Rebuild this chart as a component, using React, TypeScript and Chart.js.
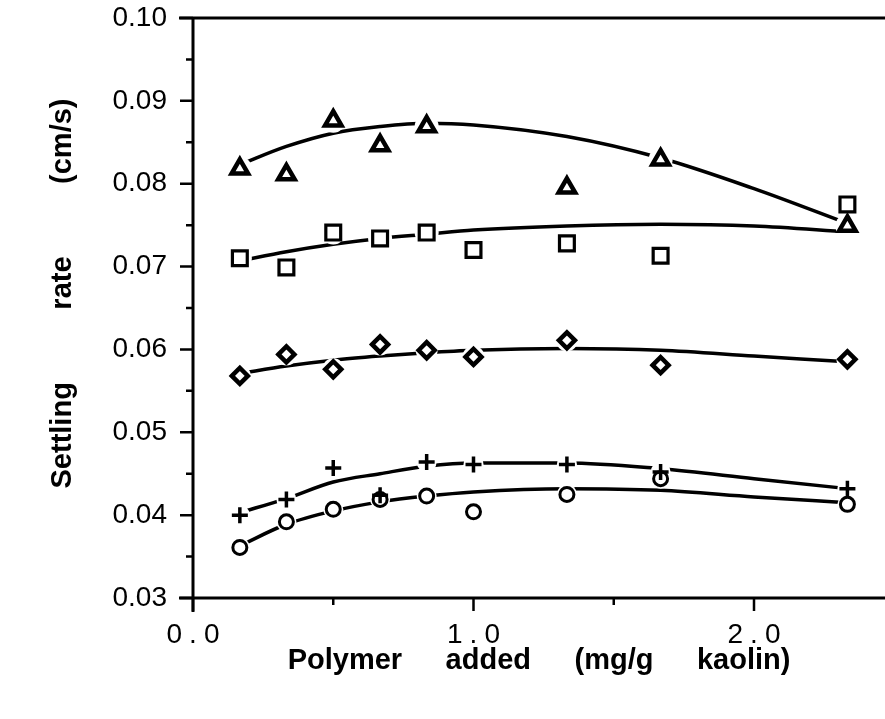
import React, { useEffect, useRef } from 'react';
import { Chart, registerables } from 'chart.js';

Chart.register(...registerables);

// ---- data ----
const doseAll = [0.167, 0.333, 0.5, 0.667, 0.833, 1.0, 1.333, 1.667, 2.333];
const doseTriangle = [0.167, 0.333, 0.5, 0.667, 0.833, 1.333, 1.667, 2.333];
const triangleRate = [0.0818, 0.0811, 0.0876, 0.0846, 0.0869, 0.0795, 0.0829, 0.0749];
const squareRate = [0.0710, 0.0699, 0.0741, 0.0734, 0.0741, 0.0720, 0.0728, 0.0713, 0.0775];
const diamondRate = [0.0568, 0.0594, 0.0576, 0.0606, 0.0599, 0.0591, 0.0611, 0.0581, 0.0588];
const plusRate = [0.0400, 0.0419, 0.0457, 0.0424, 0.0464, 0.0461, 0.0461, 0.0452, 0.0432];
const circleRate = [0.0361, 0.0392, 0.0407, 0.0419, 0.0423, 0.0404, 0.0425, 0.0444, 0.0413];

// fitted curves, read at these doses
const curveDose = [0.167, 0.333, 0.5, 0.667, 0.833, 1.0, 1.333, 1.667, 2.0, 2.333];
const triangleCurve = [0.0823, 0.0845, 0.0861, 0.0869, 0.0873, 0.0871, 0.0857, 0.0831, 0.0794, 0.0752];
const squareCurve = [0.0707, 0.0718, 0.0727, 0.0734, 0.0739, 0.0744, 0.0749, 0.0751, 0.0749, 0.0742];
const diamondCurve = [0.0571, 0.0580, 0.0587, 0.0592, 0.0596, 0.0599, 0.0601, 0.0599, 0.0592, 0.0585];
const plusCurve = [0.0403, 0.0420, 0.0440, 0.0450, 0.0459, 0.0463, 0.0463, 0.0456, 0.0444, 0.0432];
const circleCurve = [0.0363, 0.0389, 0.0405, 0.0416, 0.0423, 0.0428, 0.0432, 0.0430, 0.0422, 0.0415];

// axes
const xMin = 0;
const xMax = 2.467;
const yMin = 0.03;
const yMax = 0.10;
const xMajorTicks = [0, 1, 2];
const xMinorTicks = [0.5, 1.5];
const xTickLabels = ['0\u2005.\u20050', '1\u2005.\u20050', '2\u2005.\u20050'];
const yMajorTicks = [0.03, 0.04, 0.05, 0.06, 0.07, 0.08, 0.09, 0.10];
const yMinorTicks = [0.035, 0.045, 0.055, 0.065, 0.075, 0.085, 0.095];
const xTitle = 'Polymer\u2003\u2002added\u2003\u2002(mg/g\u2003\u2002kaolin)';
const yTitle = '\u2003Settling\u2003\u2003\u2002rate\u2003\u2003\u2002(cm/s)';

const FONT = '"Liberation Sans", Arial, Helvetica, sans-serif';

const pts = (xs: number[], ys: number[]) => xs.map((x, i) => ({ x, y: ys[i] }));

const axesPlugin = {
  id: 'paperAxes',
  afterDraw(chart: any) {
    const { ctx, chartArea, scales } = chart;
    const xs = scales.x;
    const ys = scales.y;
    const x0 = xs.getPixelForValue(xMin);
    const y0 = ys.getPixelForValue(yMin);
    const yTop = ys.getPixelForValue(yMax);
    ctx.save();
    ctx.strokeStyle = '#000';
    ctx.lineCap = 'butt';
    ctx.lineWidth = 3;
    ctx.beginPath();
    ctx.moveTo(x0, yTop - 1.5);
    ctx.lineTo(x0, y0 + 14);
    ctx.moveTo(x0 - 14, y0);
    ctx.lineTo(chartArea.right, y0);
    ctx.moveTo(x0 - 14, yTop);
    ctx.lineTo(chartArea.right, yTop);
    ctx.stroke();
    ctx.lineWidth = 2.5;
    ctx.beginPath();
    yMajorTicks.forEach((v) => {
      const p = ys.getPixelForValue(v);
      ctx.moveTo(x0 - 13, p);
      ctx.lineTo(x0, p);
    });
    yMinorTicks.forEach((v) => {
      const p = ys.getPixelForValue(v);
      ctx.moveTo(x0 - 7, p);
      ctx.lineTo(x0, p);
    });
    xMajorTicks.forEach((v) => {
      const p = xs.getPixelForValue(v);
      ctx.moveTo(p, y0);
      ctx.lineTo(p, y0 + 13);
    });
    xMinorTicks.forEach((v) => {
      const p = xs.getPixelForValue(v);
      ctx.moveTo(p, y0);
      ctx.lineTo(p, y0 + 7);
    });
    ctx.stroke();
    ctx.restore();
  },
};

const curveDs = (ys: number[]) => ({
  data: pts(curveDose, ys),
  borderColor: '#000',
  borderWidth: 3.5,
  pointRadius: 0,
  tension: 0.4,
  cubicInterpolationMode: 'monotone' as const,
  fill: false,
  order: 3,
});

const haloDs = (xs: number[], ys: number[], r: number) => ({
  data: pts(xs, ys),
  showLine: false,
  pointStyle: 'circle' as const,
  pointRadius: r,
  pointBackgroundColor: '#fff',
  pointBorderWidth: 0,
  pointBorderColor: '#fff',
  order: 2,
});

const markerDs = (xs: number[], ys: number[], style: any, r: number, bw: number) => ({
  data: pts(xs, ys),
  showLine: false,
  pointStyle: style,
  pointRadius: r,
  pointBorderWidth: bw,
  pointBorderColor: '#000',
  pointBackgroundColor: '#fff',
  order: 1,
});

export default function App() {
  const ref = useRef<HTMLCanvasElement | null>(null);
  useEffect(() => {
    if (!ref.current) return;
    const chart = new Chart(ref.current, {
      type: 'line',
      data: {
        datasets: [
          curveDs(triangleCurve),
          curveDs(squareCurve),
          curveDs(diamondCurve),
          curveDs(plusCurve),
          curveDs(circleCurve),
          haloDs(doseTriangle, triangleRate, 12),
          haloDs(doseAll, squareRate, 12),
          haloDs(doseAll, diamondRate, 11),
          haloDs(doseAll, plusRate, 10),
          haloDs(doseAll, circleRate, 10),
          markerDs(doseTriangle, triangleRate, 'triangle', 9.5, 4.5),
          markerDs(doseAll, squareRate, 'rect', 10.5, 3.2),
          markerDs(doseAll, diamondRate, 'rectRot', 8, 4.5),
          markerDs(doseAll, plusRate, 'cross', 8, 3.5),
          markerDs(doseAll, circleRate, 'circle', 7, 3),
        ] as any,
      },
      options: {
        animation: false,
        responsive: false,
        devicePixelRatio: 1,
        layout: { autoPadding: false, padding: { top: 18, right: 0, left: 0, bottom: 0 } },
        plugins: {
          legend: { display: false },
          tooltip: { enabled: false },
        },
        scales: {
          x: {
            type: 'linear',
            min: xMin,
            max: xMax,
            border: { display: false },
            grid: { display: false, drawTicks: false },
            ticks: {
              stepSize: 1,
              includeBounds: false,
              padding: 20,
              color: '#000',
              font: { family: FONT, size: 28 },
              callback: (v: any) => {
                const i = xMajorTicks.indexOf(Number(v));
                return i >= 0 ? xTickLabels[i] : '';
              },
            },
            title: {
              display: true,
              text: xTitle,
              color: '#000',
              font: { family: FONT, size: 29, weight: 'bold' },
              padding: { top: 0, bottom: 41 },
            },
            afterFit: (s: any) => {
              s.height = 121;
              s.paddingLeft = 0;
              s.paddingRight = 0;
            },
          },
          y: {
            type: 'linear',
            min: yMin,
            max: yMax,
            border: { display: false },
            grid: { display: false, drawTicks: false },
            ticks: {
              stepSize: 0.01,
              padding: 26,
              color: '#000',
              font: { family: FONT, size: 28 },
              callback: (v: any) => Number(v).toFixed(2),
            },
            title: {
              display: true,
              text: yTitle,
              color: '#000',
              font: { family: FONT, size: 29, weight: 'bold' },
              padding: { top: 46, bottom: 0 },
            },
            afterFit: (s: any) => {
              s.width = 193;
              s.paddingTop = 0;
              s.paddingBottom = 0;
            },
          },
        },
      },
      plugins: [axesPlugin],
    });
    return () => chart.destroy();
  }, []);
  return (
    <div style={{ position: 'absolute', left: 0, top: 0, width: 885, height: 719, background: '#fff' }}>
      <canvas ref={ref} width={885} height={719} style={{ display: 'block' }} />
    </div>
  );
}
